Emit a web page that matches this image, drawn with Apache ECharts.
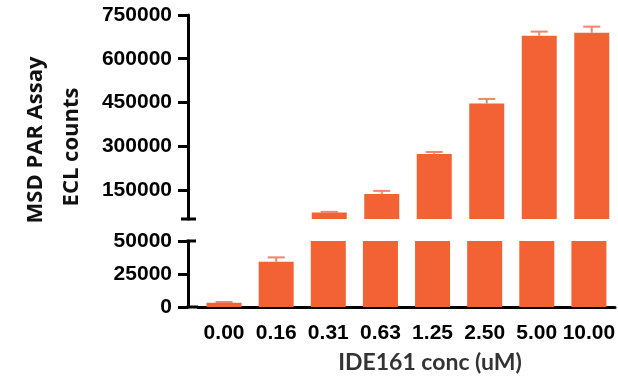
<!DOCTYPE html>
<html>
<head>
<meta charset="utf-8">
<script src="https://cdn.jsdelivr.net/npm/echarts@6/dist/echarts.min.js"></script>
<style>
  html, body { margin: 0; padding: 0; background: #fff; }
  #chart { width: 618px; height: 378px; }
</style>
</head>
<body>
<div id="chart"></div>
<script>
// Concentrations of IDE161 (uM)
const categories = ['0.00', '0.16', '0.31', '0.63', '1.25', '2.50', '5.00', '10.00'];
// Mean ECL counts and their upper error
const means = [3300, 34300, 72000, 136000, 273000, 446000, 679000, 689000];
const errors = [500, 3300, 2500, 10500, 7000, 16000, 14000, 21000];
// Tick values for the two segments of the broken y axis
const upperTicks = [150000, 300000, 450000, 600000, 750000];
const lowerTicks = [0, 25000, 50000];

const BAR = '#F26234';
const ERR = '#F0866A';
const INK = '#000';

// Layout of the two stacked grids (upper: 50k-750k, lower: 0-50k)
const left = 198, axisOffset = 10;
const upper = { top: 15, height: 204 };
const lower = { top: 241, height: 66 };

const chart = echarts.init(document.getElementById('chart'));

const tickFont = {
  fontFamily: 'Liberation Sans, Arial, sans-serif', fontWeight: 'bold', fontSize: 21, color: INK,
  formatter: function (v) { return String(v); }
};
const xTitleFont = { fontFamily: 'Lato, "Open Sans", sans-serif', fontWeight: 'bold' };
const yTitleFont = { fontFamily: '"Open Sans", Lato, sans-serif', fontWeight: 'bold' };

function errorSeries(gridIdx) {
  return {
    type: 'custom',
    xAxisIndex: gridIdx, yAxisIndex: gridIdx,
    z: 5,
    data: means.map((m, i) => [i, m, m + errors[i]]),
    renderItem: function (params, api) {
      const cs = params.coordSys;
      const base = api.coord([api.value(0), api.value(1)]);
      const cap = api.coord([api.value(0), api.value(2)]);
      if (base[1] < cs.y - 0.5 || base[1] > cs.y + cs.height + 0.5) return;
      const hw = 8.5;
      const style = { stroke: ERR, lineWidth: 2 };
      return {
        type: 'group',
        children: [
          { type: 'line', shape: { x1: base[0], y1: base[1], x2: cap[0], y2: cap[1] }, style: style },
          { type: 'line', shape: { x1: cap[0] - hw, y1: cap[1], x2: cap[0] + hw, y2: cap[1] }, style: style }
        ]
      };
    }
  };
}

function barSeries(gridIdx) {
  return {
    type: 'bar',
    xAxisIndex: gridIdx, yAxisIndex: gridIdx,
    barWidth: 35,
    itemStyle: { color: BAR },
    data: means
  };
}

const axisX = left - axisOffset;
const lineStyle = { color: INK, width: 3 };

chart.setOption({
  animation: false,
  grid: [
    { left: left, right: 0, top: upper.top, height: upper.height },
    { left: left, right: 0, top: lower.top, height: lower.height }
  ],
  xAxis: [
    { type: 'category', gridIndex: 0, data: categories, show: false },
    {
      type: 'category', gridIndex: 1, data: categories,
      axisLine: { lineStyle: lineStyle },
      axisTick: { alignWithLabel: true, length: 10, lineStyle: { color: INK, width: 3 } },
      axisLabel: Object.assign({}, tickFont, { margin: 16, interval: 0, formatter: null })
    }
  ],
  yAxis: [
    {
      type: 'value', gridIndex: 0, min: 50000, max: 750000, offset: axisOffset,
      splitLine: { show: false },
      axisLine: { show: true, lineStyle: lineStyle },
      axisTick: { show: true, length: 10, customValues: upperTicks, lineStyle: { color: INK, width: 3 } },
      axisLabel: Object.assign({ margin: 16, customValues: upperTicks }, tickFont)
    },
    {
      type: 'value', gridIndex: 1, min: 0, max: 50000, interval: 25000, offset: axisOffset,
      splitLine: { show: false },
      axisLine: { show: true, lineStyle: lineStyle },
      axisTick: { show: true, length: 10, customValues: lowerTicks, lineStyle: { color: INK, width: 3 } },
      axisLabel: Object.assign({ margin: 16, customValues: lowerTicks }, tickFont)
    }
  ],
  series: [barSeries(0), barSeries(1), errorSeries(0), errorSeries(1)],
  graphic: [
    // short caps marking the axis break
    { type: 'line', shape: { x1: axisX - 7, y1: upper.top + upper.height, x2: axisX + 8, y2: upper.top + upper.height }, style: { stroke: INK, lineWidth: 3 } },
    { type: 'line', shape: { x1: axisX - 1.5, y1: lower.top, x2: axisX + 8, y2: lower.top }, style: { stroke: INK, lineWidth: 3 } },
    // join the category axis to the offset value axis
    { type: 'line', shape: { x1: axisX - 1.5, y1: lower.top + lower.height, x2: left, y2: lower.top + lower.height }, style: { stroke: INK, lineWidth: 3 } },
    // axis titles
    {
      type: 'text', x: 430, y: 363,
      style: Object.assign({ text: 'IDE161 conc (uM)', fill: '#333', fontSize: 23, align: 'center', verticalAlign: 'middle' }, xTitleFont)
    },
    {
      type: 'text', x: 36, y: 140, rotation: Math.PI / 2,
      style: Object.assign({ text: 'MSD PAR Assay', fill: '#111', fontSize: 22, align: 'center', verticalAlign: 'middle' }, yTitleFont)
    },
    {
      type: 'text', x: 72, y: 147, rotation: Math.PI / 2,
      style: Object.assign({ text: 'ECL counts', fill: '#111', fontSize: 22, align: 'center', verticalAlign: 'middle' }, yTitleFont)
    }
  ]
});
</script>
</body>
</html>
